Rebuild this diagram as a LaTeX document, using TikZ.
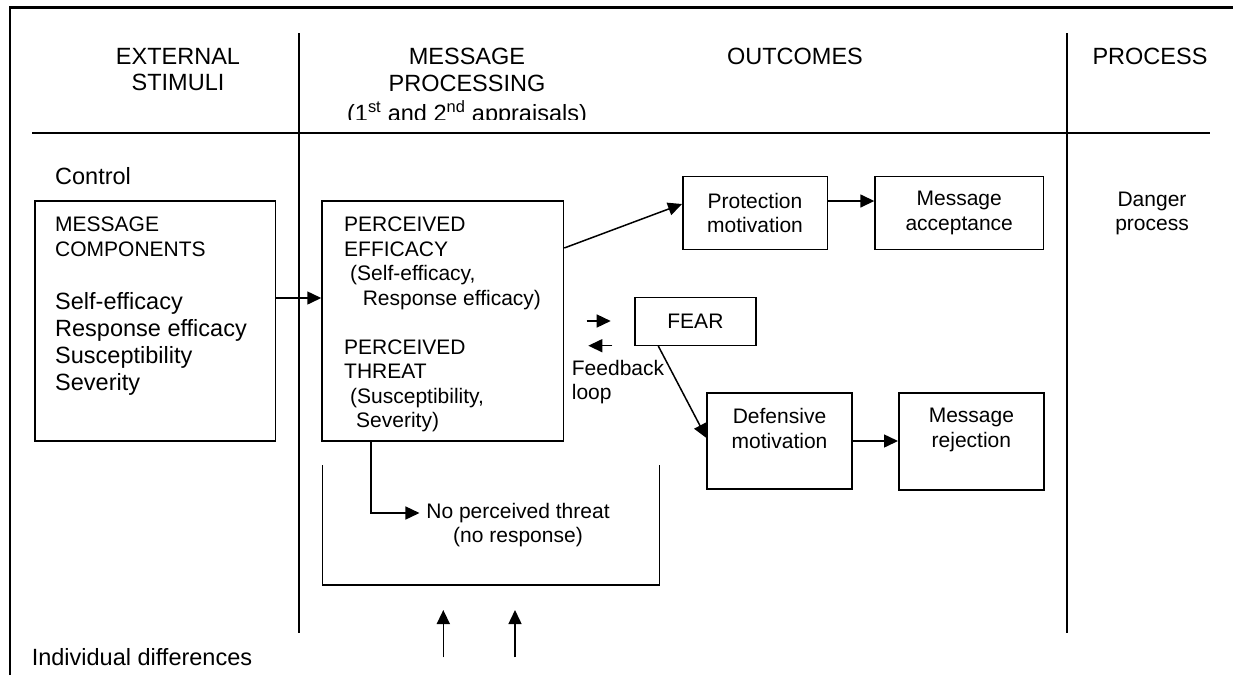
\documentclass[tikz,border=0pt]{standalone}
\usepackage{fontspec}
\setmainfont{Liberation Sans}
\usetikzlibrary{calc,arrows.meta}
\tikzset{
  every node/.style={inner sep=0pt},
  frame/.style={line width=2.2pt},
  rule/.style={line width=1.5pt},
  box/.style={draw, line width=1.5pt},
  arr/.style={line width=1.5pt, -{Triangle[length=14pt,width=13pt]}},
  big/.style={font=\fontsize{23.5}{26.5}\selectfont},
  small/.style={font=\fontsize{21}{24.5}\selectfont},
}

\begin{document}
\begin{tikzpicture}[x=1pt,y=-1pt]
  \useasboundingbox (0,0) rectangle (1233,675);

  % ---------- frame and column rules ----------
  \draw[frame] (10,675) -- (10,7.5) -- (1233,7.5);
  \draw[rule] (32,133) -- (1210,133);
  \draw[rule] (299,33) -- (299,633);
  \draw[rule] (1067,33) -- (1067,633);

  % ---------- column headings ----------
  \node[big, align=center, anchor=north] (hstim) at (178,48) {EXTERNAL\\STIMULI};
  \begin{scope}
    \clip (300,30) rectangle (640,119.5);
    \node[big, align=center, anchor=north] (hproc) at (467,48)
      {MESSAGE\\PROCESSING\\[4pt](1\textsuperscript{st} and 2\textsuperscript{nd} appraisals)};
  \end{scope}
  \node[big, anchor=north] (hout) at (795,48) {OUTCOMES};
  \node[big, anchor=north] (hpro) at (1150,48) {PROCESS};

  % ---------- external stimuli ----------
  \node[big, anchor=north west] (ctrl) at (55,167) {Control};
  \node[box, minimum width=240.6pt, minimum height=240pt] (msg) at (155.3,321) {};
  \node[small, align=left, anchor=north west] (msgcap) at (55,217) {MESSAGE\\COMPONENTS};
  \node[font=\fontsize{23.5}{27}\selectfont, align=left, anchor=north west] (msglist) at (55,292)
    {Self-efficacy\\Response efficacy\\Susceptibility\\Severity};
  \node[big, anchor=north west] (indiv) at (31.6,648.3) {Individual differences};

  % ---------- message processing ----------
  \node[box, minimum width=241.5pt, minimum height=240pt] (perc) at (442.75,321) {};
  \node[small, align=left, anchor=north west] (perctext) at (344,216.7)
    {PERCEIVED\\EFFICACY\\\hspace*{6pt}(Self-efficacy,\\\hspace*{18.6pt}Response efficacy)\\[24.5pt]
     PERCEIVED\\THREAT\\\hspace*{6pt}(Susceptibility,\\\hspace*{12pt}Severity)};
  \draw[rule] (322.7,465) -- (322.7,585) -- (659.3,585) -- (659.3,465);
  \node[small, align=center, anchor=north] (npt) at (518,502.7) {No perceived threat\\(no response)};

  % ---------- outcomes ----------
  \node[box, small, align=center, minimum width=144.5pt, minimum height=72.6pt] (pm) at (755,213)
    {Protection\\motivation};
  \node[box, small, align=center, minimum width=168.3pt, minimum height=72.6pt] (ma) at (959.2,213)
    {Message\\acceptance};
  \node[box, small, minimum width=120.7pt, minimum height=48pt] (fear) at (695.4,321.3) {FEAR};
  \node[box, minimum width=144.6pt, minimum height=96.3pt] (dm) at (779.5,440.9) {};
  \node[small, align=center, anchor=north] (dmtext) at (779.5,408.3) {Defensive\\motivation};
  \node[box, minimum width=145.3pt, minimum height=97.3pt] (mr) at (971.4,441.4) {};
  \node[small, align=center, anchor=north] (mrtext) at (971.4,408.3) {Message\\rejection};
  \node[small, align=left, anchor=north west] (fb) at (571.7,360) {Feedback\\loop};

  % ---------- process ----------
  \node[small, align=center, anchor=north] (danger) at (1152,191.7) {Danger\\process};

  % ---------- arrows ----------
  \draw[arr] (msg.east |- 0,298) -- (perc.west |- 0,298);
  \draw[arr] (perc.east |- 0,248) -- (pm.west |- 0,204);
  \draw[arr] (pm.east |- 0,201) -- (ma.west |- 0,201);
  \draw[arr] ($(fear.south west)+(24,0)$) -- (dm.west |- 0,438);
  \draw[arr] (dm.east |- 0,441) -- (mr.west |- 0,441);
  \draw[arr, shorten >=6.7pt] (perc.south -| 371,0) |- (npt.west |- 0,513);

  % feedback loop arrows
  \coordinate (fbR0) at (586.7,321);
  \coordinate (fbR1) at (610.7,321);
  \coordinate (fbL0) at (612.3,345.7);
  \coordinate (fbL1) at (588.3,345.7);
  \draw[arr] (fbR0) -- (fbR1);
  \draw[arr] (fbL0) -- (fbL1);

  % individual differences feeding in
  \coordinate (up1) at (443.3,657.3);
  \coordinate (up2) at (515,657.3);
  \draw[arr] (up1) -- (443.3,610);
  \draw[arr] (up2) -- (515,610);
\end{tikzpicture}
\end{document}
